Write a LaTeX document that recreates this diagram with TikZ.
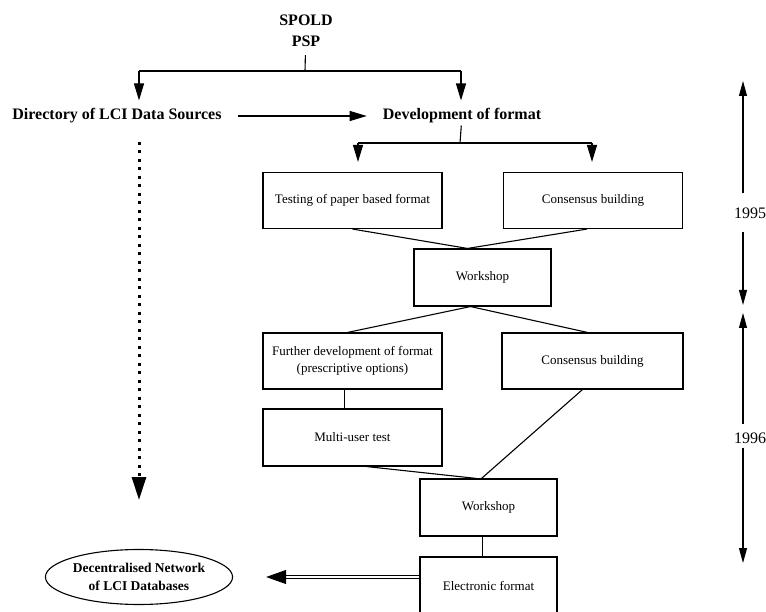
\documentclass[tikz,border=0pt]{standalone}
\usepackage{fontspec}
\setmainfont{Liberation Serif}
\usetikzlibrary{positioning,arrows.meta,calc,shapes.geometric}

\begin{document}
\begin{tikzpicture}[
    x=1pt, y=-1pt,
    box/.style={draw, line width=1.1pt, minimum width=179pt, minimum height=56pt,
                align=center, inner sep=2pt, font=\fontsize{13}{17}\selectfont},
    smallbox/.style={box, minimum width=137pt, minimum height=57pt},
    head/.style={font=\fontsize{16}{21}\selectfont\bfseries, align=center, inner sep=2pt},
    year/.style={font=\fontsize{16}{19}\selectfont, inner sep=1pt},
    link/.style={line width=1.1pt},
    arr/.style={-{Triangle[length=17pt,width=10pt]}, line width=1.1pt},
    yarr/.style={-{Triangle[length=15pt,width=8pt]}, line width=1.1pt},
    dotarr/.style={-{Triangle[length=23pt,width=14pt]}, line width=3pt,
                   dash pattern=on 3pt off 5.5pt},
    dblarr/.style={-{Triangle[length=20pt,width=14pt]}, double, double distance=1.8pt,
                   line width=1pt}
]
  \useasboundingbox (0,0) rectangle (766,612);

  % headings
  \node[head] (spold) at (306,31) {SPOLD\\PSP};
  \node[head] (dir) at (117,116) {Directory of LCI Data Sources};
  \node[head] (dev) at (462,116) {Development of format};

  % boxes
  \node[box] (test) at (352.5,200.5) {Testing of paper based format};
  \node[box] (cons1) at (593,200.5) {Consensus building};
  \node[smallbox] (ws1) at (482.5,277.5) {Workshop};
  \node[box] (further) at (352.5,361)
    {Further development of format\\(prescriptive options)};
  \node[box, minimum width=181pt] (cons2) at (592.5,361) {Consensus building};
  \node[box, minimum height=57pt] (multi) at (352.5,437.5) {Multi-user test};
  \node[smallbox] (ws2) at (488.5,507.5) {Workshop};
  \node[smallbox, minimum height=58pt] (elec) at (488.5,586) {Electronic format};
  \node[draw, ellipse, line width=1.1pt, minimum width=182pt, minimum height=55pt,
        inner sep=0pt, align=center, font=\fontsize{13.5}{18}\selectfont\bfseries]
        (net) at (139,577) {Decentralised Network\\of LCI Databases};

  % years
  \node[year] (y95) at (750,213) {1995};
  \node[year] (y96) at (750,438) {1996};
  \coordinate (t95) at (743,81);
  \coordinate (b95) at (743,305);
  \coordinate (t96) at (743,313);
  \coordinate (b96) at (743,563);

  % forks
  \coordinate (fork1) at (305,71);
  \coordinate (fork1L) at (139,71);
  \coordinate (fork1R) at (461,71);
  \coordinate (fork2) at (460,143);
  \coordinate (fork2L) at (358,143);
  \coordinate (fork2R) at (592,143);
  \coordinate (dotend) at (139,500);

  \draw[link, shorten <=6pt] (spold) -- (fork1);
  \draw[link] (fork1L) -- (fork1R);
  \draw[arr, shorten >=6pt] (fork1L) -- (fork1L |- dir.north);
  \draw[arr, shorten >=6pt] (fork1R) -- (fork1R |- dev.north);
  \draw[arr, shorten <=14pt, shorten >=14pt] (dir) -- (dev);
  \draw[dotarr, shorten <=16pt] (dir.south -| dotend) -- (dotend);

  \draw[link] (dev) -- (fork2);
  \draw[link] (fork2L) -- (fork2R);
  \draw[arr, shorten >=10pt] (fork2L) -- (fork2L |- test.north);
  \draw[arr, shorten >=10pt] (fork2R) -- (fork2R |- cons1.north);

  \draw[link] (test.south) -- ($(ws1.north)+(-15,0)$);
  \draw[link] ($(cons1.south)+(-6,0)$) -- ($(ws1.north)+(-15,0)$);
  \draw[link] ($(ws1.south)+(-12,0)$) -- ($(further.north)+(-5,0)$);
  \draw[link] ($(ws1.south)+(-12,0)$) -- ($(cons2.north)+(-5,0)$);
  \draw[link] ($(further.south)+(-8,0)$) -- ($(multi.north)+(-8,0)$);
  \draw[link] ($(multi.south)+(14,0)$) -- ($(ws2.north)+(-12,0)$);
  \draw[link] ($(cons2.south)+(-10,0)$) -- ($(ws2.north)+(-7,0)$);
  \draw[link] ($(ws2.south)+(-6,0)$) -- ($(elec.north)+(-6,0)$);
  \draw[dblarr, shorten >=33pt] (elec.west |- net) -- (net.east);

  \draw[yarr, shorten <=13pt] (y95.north -| t95) -- (t95);
  \draw[yarr, shorten <=12pt] (y95.south -| b95) -- (b95);
  \draw[yarr, shorten <=7pt] (y96.north -| t96) -- (t96);
  \draw[yarr, shorten <=3pt] (y96.south -| b96) -- (b96);
\end{tikzpicture}
\end{document}
